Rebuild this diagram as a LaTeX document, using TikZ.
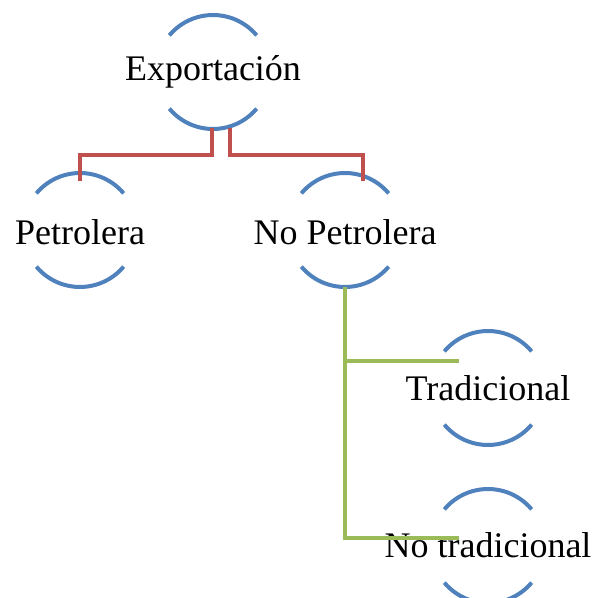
\documentclass[tikz,border=0pt]{standalone}
\usepackage{fontspec}
\setmainfont{Liberation Serif}
\usetikzlibrary{calc}

\definecolor{azul}{RGB}{79,129,189}
\definecolor{rojo}{RGB}{192,80,77}
\definecolor{verde}{RGB}{155,187,89}

\begin{document}
\begin{tikzpicture}[x=1pt,y=1pt,
  etiqueta/.style={inner sep=0.75pt,font=\fontsize{36}{40}\selectfont},
  arco/.style={draw=azul,line width=4pt},
  rama/.style={draw=rojo,line width=4pt},
  ramaverde/.style={draw=verde,line width=4pt}]

\useasboundingbox (0,0) rectangle (595,598);

% centres
\coordinate (expo) at (213,526);
\coordinate (petro) at (80,368);
\coordinate (nopetro) at (345,368);
\coordinate (trad) at (488,210);
\coordinate (notrad) at (488,52);

% open circles
\foreach \c in {expo,petro,nopetro,trad,notrad}{
  \draw[arco] ($(\c)+(40:57)$) arc (40:140:57);
  \draw[arco] ($(\c)+(220:57)$) arc (220:320:57);
}

% Text Node
\node[etiqueta] (texpo) at (expo) {Exportación};
% Text Node
\node[etiqueta] (tpetro) at ([yshift=-2]petro) {Petrolera};
% Text Node
\node[etiqueta] (tnopetro) at ([yshift=-2]nopetro) {No Petrolera};
% Text Node
\node[etiqueta] (ttrad) at (trad) {Tradicional};
% Text Node
\node[etiqueta] (tnotrad) at ([yshift=1]notrad) {No tradicional};

% connectors
\draw[rama] ($(expo)+(-1,-56)$) -- ++(0,-27) -| ($(petro)+(0,49)$);
\draw[rama] ($(expo)+(17,-56)$) -- ++(0,-27) -| ($(nopetro)+(18,49)$);
\draw[ramaverde] ($(nopetro)+(0,-57)$) |- ($(trad)+(-29,27)$);
\draw[ramaverde] ($(nopetro)+(0,-57)$) |- ($(notrad)+(-29,8)$);

\end{tikzpicture}
\end{document}
